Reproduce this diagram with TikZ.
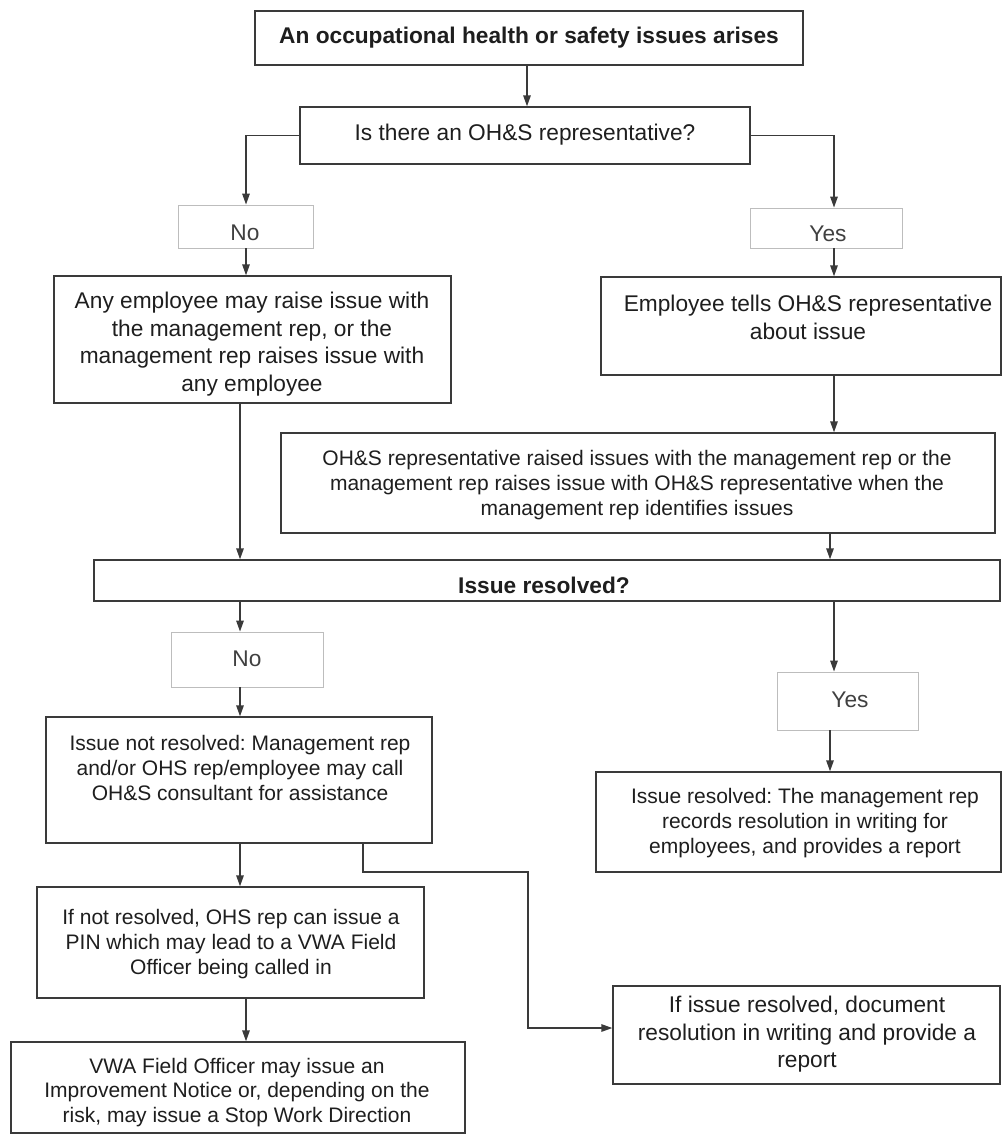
\documentclass[tikz,border=0pt]{standalone}
\usepackage{fontspec}
\setmainfont{Liberation Sans}
\usetikzlibrary{arrows.meta,calc}
\frenchspacing
\definecolor{lncol}{HTML}{3A3A3A}
\definecolor{txcol}{HTML}{1E1E1E}
\definecolor{lbcol}{HTML}{BDBDBD}
\tikzset{
 box/.style={draw=lncol, line width=1.4pt, fill=white, inner sep=0pt},
 lbox/.style={draw=lbcol, line width=0.9pt, fill=white, inner sep=0pt},
 bigtxt/.style={text=txcol, align=center, font=\fontsize{22.7}{27.5}\selectfont, inner sep=0pt},
 smalltxt/.style={text=txcol, align=center, font=\fontsize{21}{24.8}\selectfont, inner sep=0pt},
 lbltxt/.style={text=black!75, align=center, font=\fontsize{22.7}{27.5}\selectfont, inner sep=0pt},
 arr/.style={draw=lncol, line width=1.4pt, -{Triangle[length=11pt,width=7.5pt]}},
 plain/.style={draw=lncol, line width=1.4pt},
}
\begin{document}
\begin{tikzpicture}[x=1pt,y=-1pt]
\useasboundingbox (0,0) rectangle (1003,1136);
\fill[white] (0,0) rectangle (1003,1136);

% boxes
\node[box, minimum width=548, minimum height=54] (b1) at (529,38) {};
\node[box, minimum width=450, minimum height=57] (b2) at (525,135.5) {};
\node[lbox, minimum width=135, minimum height=43] (no1) at (245.5,226.5) {};
\node[lbox, minimum width=152, minimum height=40] (yes1) at (826,228) {};
\node[box, minimum width=397, minimum height=127] (b3) at (252.5,339.5) {};
\node[box, minimum width=400, minimum height=98] (b4) at (801,326) {};
\node[box, minimum width=714, minimum height=100] (b5) at (638,483) {};
\node[box, minimum width=906, minimum height=41] (b6) at (547,580.5) {};
\node[lbox, minimum width=152, minimum height=55] (no2) at (247,659.5) {};
\node[lbox, minimum width=141, minimum height=58] (yes2) at (847.5,701) {};
\node[box, minimum width=386, minimum height=126] (b7) at (239,780) {};
\node[box, minimum width=405, minimum height=100] (b8) at (798.5,822) {};
\node[box, minimum width=387, minimum height=111] (b9) at (230.5,942.5) {};
\node[box, minimum width=454, minimum height=91] (b10) at (238,1087.5) {};
\node[box, minimum width=387, minimum height=98] (b11) at (806.5,1035) {};

% texts
\node[bigtxt, font=\fontsize{22.7}{27.5}\selectfont\bfseries] (t1) at (529,38) {An occupational health or safety issues arises};
\node[bigtxt] (t2) at (525,135) {Is there an OH\&S representative?};
\node[lbltxt] (tno1) at (245,233) {No};
\node[lbltxt] (tyes1) at (828,234) {Yes};
\node[bigtxt] (t3) at (252,344) {Any employee may raise issue with\\the management rep, or the\\management rep raises issue with\\any employee};
\node[bigtxt] (t4) at (808,317.5) {Employee tells OH\&S representative\\about issue};
\node[smalltxt] (t5) at (637,485) {OH\&S representative raised issues with the management rep or the\\management rep raises issue with OH\&S representative when the\\management rep identifies issues};
\node[bigtxt, font=\fontsize{22.7}{27.5}\selectfont\bfseries] (t6) at (544,585) {Issue resolved?};
\node[lbltxt] (tno2) at (247,659) {No};
\node[lbltxt] (tyes2) at (850,700) {Yes};
\node[smalltxt] (t7) at (240,768) {Issue not resolved: Management rep\\and/or OHS rep/employee may call\\OH\&S consultant for assistance};
\node[smalltxt] (t8) at (805,823) {Issue resolved: The management rep\\records resolution in writing for\\employees, and provides a report};
\node[smalltxt] (t9) at (231,944) {If not resolved, OHS rep can issue a\\PIN which may lead to a VWA Field\\Officer being called in};
\node[smalltxt] (t10) at (237,1092.5) {VWA Field Officer may issue an\\Improvement Notice or, depending on the\\risk, may issue a Stop Work Direction};
\node[bigtxt] (t11) at (807,1034.5) {If issue resolved, document\\resolution in writing and provide a\\report};

% connector columns
\coordinate (xa) at (527,0);
\coordinate (xl) at (246,0);
\coordinate (xl2) at (240,0);
\coordinate (xr) at (834,0);
\coordinate (xr2) at (830,0);
\coordinate (k1) at (363,872);
\coordinate (k2) at (528,1028);

% connectors
\draw[arr] (b1.south -| xa) -- (b2.north -| xa);
\draw[arr] (b2.west) -| (no1.north -| xl);
\draw[arr] (b2.east) -| (yes1.north -| xr);
\draw[arr] (no1.south -| xl) -- (b3.north -| xl);
\draw[arr] (yes1.south -| xr) -- (b4.north -| xr);
\draw[arr] (b4.south -| xr) -- (b5.north -| xr);
\draw[arr] (b3.south -| xl2) -- (b6.north -| xl2);
\draw[arr] (b5.south -| xr2) -- (b6.north -| xr2);
\draw[arr] (b6.south -| xl2) -- (no2.north -| xl2);
\draw[arr] (no2.south -| xl2) -- (b7.north -| xl2);
\draw[arr] (b6.south -| xr) -- (yes2.north -| xr);
\draw[arr] (yes2.south -| xr2) -- (b8.north -| xr2);
\draw[arr] (b7.south -| xl2) -- (b9.north -| xl2);
\draw[arr] (b9.south -| xl) -- (b10.north -| xl);
\draw[arr] (b7.south -| k1) -- (k1) -| (k2) -- (k2 -| b11.west);
\end{tikzpicture}
\end{document}
